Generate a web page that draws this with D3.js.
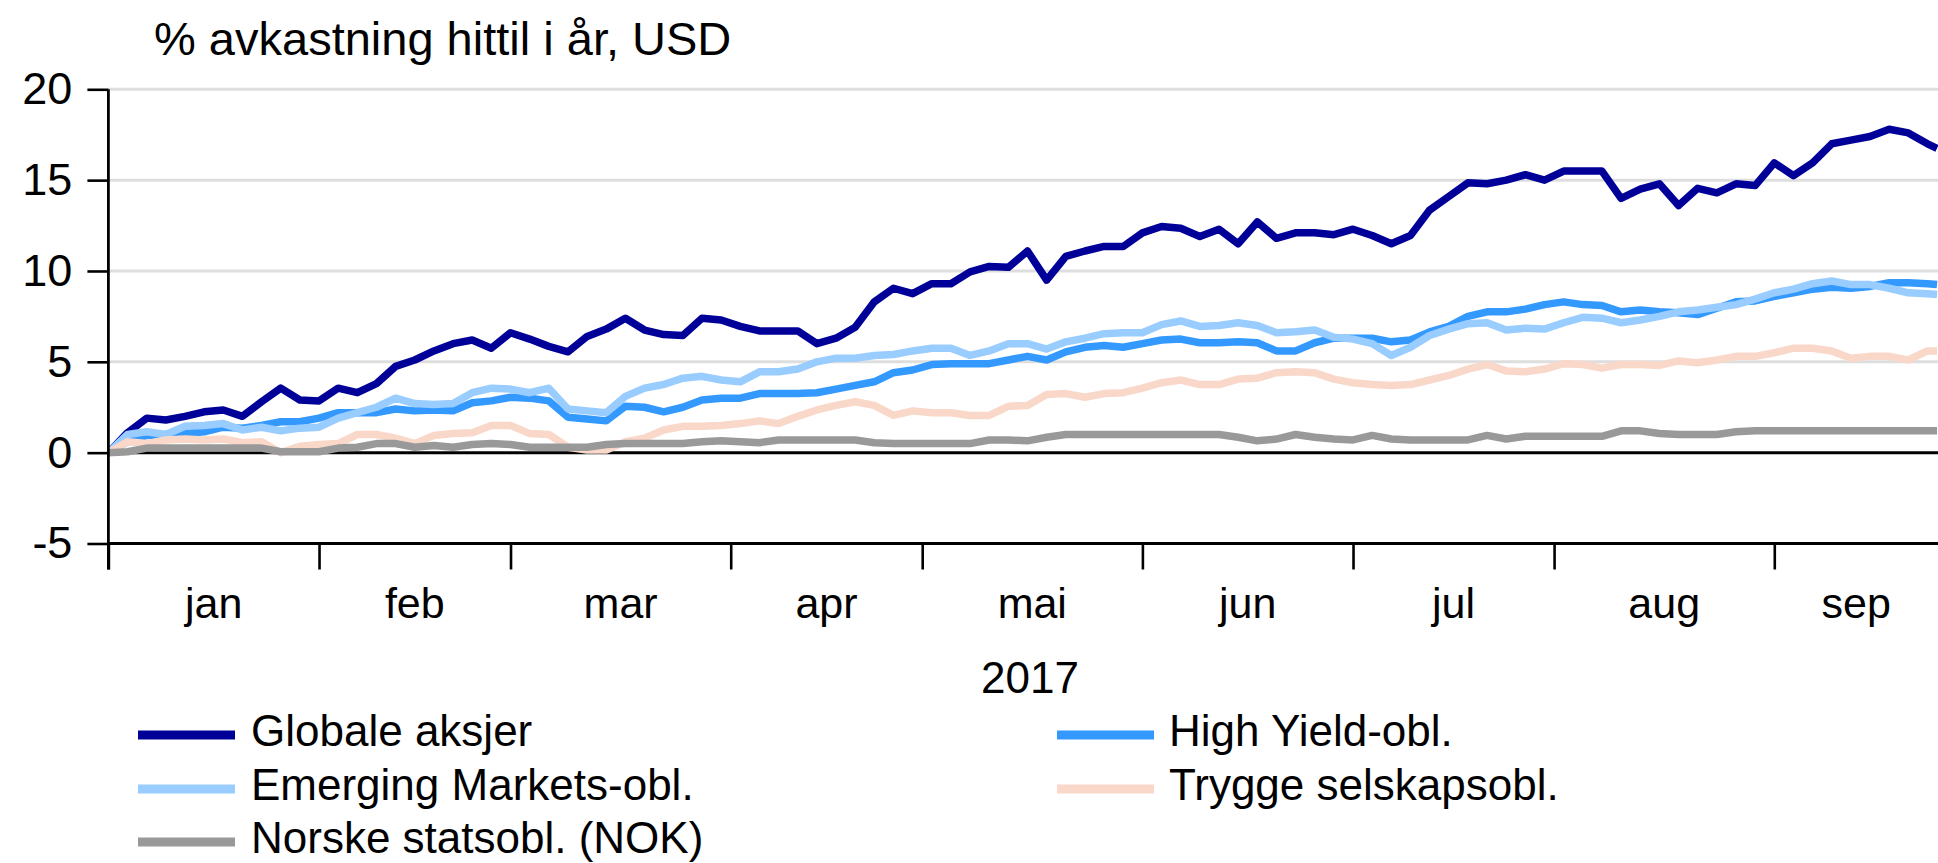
<!DOCTYPE html>
<html>
<head>
<meta charset="utf-8">
<script src="https://cdn.jsdelivr.net/npm/d3@7"></script>
<style>
  html, body { margin: 0; padding: 0; background: #ffffff; }
  svg { display: block; font-family: "Liberation Sans", Arial, sans-serif; }
</style>
</head>
<body>
<svg id="chart" width="1938" height="863"></svg>
<script>
// ---- data (business-day index since start of 2017, % return YTD in USD) ----
const dayIndex = [0,2,4,6,8,10,12,14,16,18,20,22,24,26,28,30,32,34,36,38,40,42,44,46,48,50,52,54,56,58,60,62,64,66,68,70,72,74,76,78,80,82,84,86,88,90,92,94,96,98,100,102,104,106,108,110,112,114,116,118,120,122,124,126,128,130,132,134,136,138,140,142,144,146,148,150,152,154,156,158,160,162,164,166,168,170,172,174,176,178,180,182,184,186,188,190,191];

const globaleAksjer = [0,1.1,1.9,1.8,2.0,2.25,2.35,2.0,2.8,3.55,2.9,2.85,3.55,3.3,3.8,4.75,5.1,5.6,6.0,6.2,5.75,6.6,6.25,5.85,5.55,6.4,6.8,7.4,6.75,6.5,6.45,7.4,7.3,6.95,6.7,6.7,6.7,6.0,6.3,6.9,8.3,9.05,8.75,9.3,9.3,9.95,10.25,10.2,11.1,9.5,10.8,11.1,11.35,11.35,12.1,12.45,12.35,11.9,12.3,11.5,12.7,11.8,12.1,12.1,12.0,12.3,11.95,11.5,11.95,13.35,14.1,14.85,14.8,15.0,15.3,15.0,15.5,15.5,15.5,14.0,14.5,14.8,13.6,14.55,14.3,14.8,14.7,15.95,15.25,15.95,17.0,17.2,17.4,17.8,17.6,17.0,16.75];

const highYield = [0,0.6,0.95,1.0,1.05,1.15,1.4,1.35,1.5,1.7,1.7,1.9,2.2,2.2,2.2,2.4,2.3,2.35,2.3,2.75,2.85,3.05,3.0,2.85,1.95,1.85,1.75,2.55,2.5,2.25,2.5,2.9,3.0,3.0,3.25,3.25,3.25,3.3,3.5,3.7,3.9,4.4,4.55,4.85,4.9,4.9,4.9,5.1,5.3,5.1,5.55,5.8,5.9,5.8,6.0,6.2,6.25,6.05,6.05,6.1,6.05,5.6,5.6,6.05,6.3,6.3,6.3,6.1,6.2,6.65,6.95,7.5,7.75,7.75,7.9,8.15,8.3,8.15,8.1,7.75,7.85,7.75,7.7,7.6,7.95,8.3,8.35,8.6,8.8,9.0,9.1,9.05,9.15,9.35,9.35,9.3,9.25];

const emergingMarkets = [0,1.0,1.15,1.0,1.45,1.5,1.6,1.25,1.4,1.2,1.35,1.4,1.9,2.2,2.5,3.0,2.7,2.65,2.7,3.3,3.55,3.5,3.3,3.55,2.4,2.3,2.2,3.1,3.55,3.75,4.1,4.2,4.0,3.9,4.45,4.45,4.6,5.0,5.2,5.2,5.35,5.4,5.6,5.75,5.75,5.35,5.6,6.0,6.0,5.7,6.1,6.3,6.55,6.6,6.6,7.05,7.25,6.95,7.0,7.15,7.0,6.6,6.65,6.75,6.35,6.25,6.0,5.35,5.8,6.45,6.8,7.1,7.15,6.75,6.85,6.8,7.15,7.45,7.4,7.15,7.3,7.5,7.75,7.85,8.0,8.15,8.45,8.8,9.0,9.3,9.45,9.25,9.25,9.05,8.8,8.75,8.7];

const tryggeSelskap = [0,0.6,0.5,0.7,0.75,0.7,0.75,0.55,0.6,0.0,0.35,0.45,0.5,1.0,1.0,0.8,0.5,0.95,1.05,1.1,1.5,1.5,1.05,1.0,0.3,0.15,0.15,0.6,0.8,1.25,1.45,1.45,1.5,1.6,1.75,1.6,2.0,2.35,2.6,2.8,2.6,2.05,2.3,2.2,2.2,2.05,2.05,2.55,2.6,3.2,3.25,3.05,3.25,3.3,3.55,3.85,4.0,3.75,3.75,4.05,4.1,4.4,4.45,4.4,4.05,3.85,3.75,3.7,3.75,4.0,4.25,4.6,4.85,4.5,4.45,4.6,4.9,4.85,4.65,4.85,4.85,4.8,5.05,4.95,5.1,5.3,5.3,5.5,5.75,5.75,5.6,5.2,5.3,5.3,5.1,5.6,5.6];

const norskeStat = [0,0.05,0.25,0.25,0.25,0.25,0.25,0.25,0.25,0.05,0.05,0.05,0.25,0.3,0.5,0.5,0.3,0.4,0.3,0.45,0.5,0.45,0.3,0.3,0.3,0.3,0.45,0.5,0.5,0.5,0.5,0.6,0.65,0.6,0.55,0.7,0.7,0.7,0.7,0.7,0.55,0.5,0.5,0.5,0.5,0.5,0.7,0.7,0.65,0.85,1.0,1.0,1.0,1.0,1.0,1.0,1.0,1.0,1.0,0.85,0.65,0.75,1.0,0.85,0.75,0.7,0.95,0.75,0.7,0.7,0.7,0.7,0.95,0.75,0.9,0.9,0.9,0.9,0.9,1.2,1.2,1.05,1.0,1.0,1.0,1.15,1.2,1.2,1.2,1.2,1.2,1.2,1.2,1.2,1.2,1.2,1.2];

const seriesNames = ["Globale aksjer", "High Yield-obl.", "Emerging Markets-obl.", "Trygge selskapsobl.", "Norske statsobl. (NOK)"];
const seriesColors = ["#000099", "#3399ff", "#99ccff", "#f9d8ca", "#999999"];

const monthStarts = [0, 22, 42, 65, 85, 108, 130, 151, 174];
const monthLabels = ["jan", "feb", "mar", "apr", "mai", "jun", "jul", "aug", "sep"];
const yTicks = [-5, 0, 5, 10, 15, 20];
const gridValues = [5, 10, 15, 20];
const titleText = "% avkastning hittil i år, USD";
const yearLabel = "2017";

// ---- layout ----
const svg = d3.select("#chart");
const W = 1938, H = 863;
const xEnd = 191.1;
const x = d3.scaleLinear().domain([0, xEnd]).range([108.4, 1938]);
const y = d3.scaleLinear().domain([-5, 20]).range([543.5, 89.3]);

const seriesValues = [globaleAksjer, highYield, emergingMarkets, tryggeSelskap, norskeStat];

// title
svg.append("text")
  .attr("x", 154).attr("y", 55)
  .attr("font-size", 47).attr("fill", "#000")
  .text(titleText);

// gridlines
svg.append("g").selectAll("line").data(gridValues).join("line")
  .attr("x1", x(0)).attr("x2", W)
  .attr("y1", d => y(d)).attr("y2", d => y(d))
  .attr("stroke", "#dedede").attr("stroke-width", 3);

// zero line
svg.append("line")
  .attr("x1", x(0)).attr("x2", W)
  .attr("y1", y(0)).attr("y2", y(0))
  .attr("stroke", "#000").attr("stroke-width", 3);

// lines
svg.append("defs").append("clipPath").attr("id", "plotclip")
  .append("rect").attr("x", x(0)).attr("y", 0).attr("width", W - x(0)).attr("height", H);

const line = d3.line().x((d, i) => x(dayIndex[i])).y(d => y(d));
const lg = svg.append("g").attr("clip-path", "url(#plotclip)");
seriesValues.forEach((vals, k) => {
  lg.append("path")
    .datum(vals)
    .attr("d", line)
    .attr("fill", "none")
    .attr("stroke", seriesColors[k])
    .attr("stroke-width", 7.5)
    .attr("stroke-linejoin", "round")
    .attr("stroke-linecap", "butt");
});

// x axis at y = -5
const xAxis = d3.axisBottom(x).tickValues(monthStarts).tickSize(26).tickSizeOuter(0).tickFormat("");
const gx = svg.append("g").attr("transform", `translate(0,${y(-5)})`).call(xAxis);
gx.select(".domain").attr("stroke", "#000").attr("stroke-width", 3).attr("d", `M${x(0)},0H${W}`);
gx.selectAll(".tick line").attr("stroke", "#000").attr("stroke-width", 2.6);

// month labels centered in month span
svg.append("g").selectAll("text").data(monthLabels).join("text")
  .attr("x", (d, i) => {
    const a = monthStarts[i];
    const b = i + 1 < monthStarts.length ? monthStarts[i + 1] : xEnd;
    return (x(a) + x(b)) / 2;
  })
  .attr("y", 618)
  .attr("text-anchor", "middle")
  .attr("font-size", 43).attr("fill", "#000")
  .text(d => d);

svg.append("text")
  .attr("x", 1030).attr("y", 693)
  .attr("text-anchor", "middle")
  .attr("font-size", 44).attr("fill", "#000")
  .text(yearLabel);

// y axis
const yAxis = d3.axisLeft(y).tickValues(yTicks).tickSize(21).tickSizeOuter(0).tickPadding(15).tickFormat(d => String(d));
const gy = svg.append("g").attr("transform", `translate(${x(0)},0)`).call(yAxis);
gy.select(".domain").attr("stroke", "#000").attr("stroke-width", 2.8).attr("d", `M0,${y(20)}V${y(-5) + 26}`);
gy.selectAll(".tick line").attr("stroke", "#000").attr("stroke-width", 2.6);
gy.selectAll(".tick text").attr("font-size", 45).attr("fill", "#000")
  .attr("font-family", "Liberation Sans, Arial, sans-serif");

// legend
const legendPos = [
  {sx: 138, tx: 251, y: 735},
  {sx: 1057, tx: 1169, y: 735},
  {sx: 138, tx: 251, y: 789},
  {sx: 1057, tx: 1169, y: 789},
  {sx: 138, tx: 251, y: 842}
];
const leg = svg.append("g");
seriesNames.forEach((name, k) => {
  const p = legendPos[k];
  leg.append("line")
    .attr("x1", p.sx).attr("x2", p.sx + 97)
    .attr("y1", p.y).attr("y2", p.y)
    .attr("stroke", seriesColors[k]).attr("stroke-width", 9);
  leg.append("text")
    .attr("x", p.tx).attr("y", p.y + 11)
    .attr("font-size", 44).attr("fill", "#000")
    .text(name);
});
</script>
</body>
</html>
